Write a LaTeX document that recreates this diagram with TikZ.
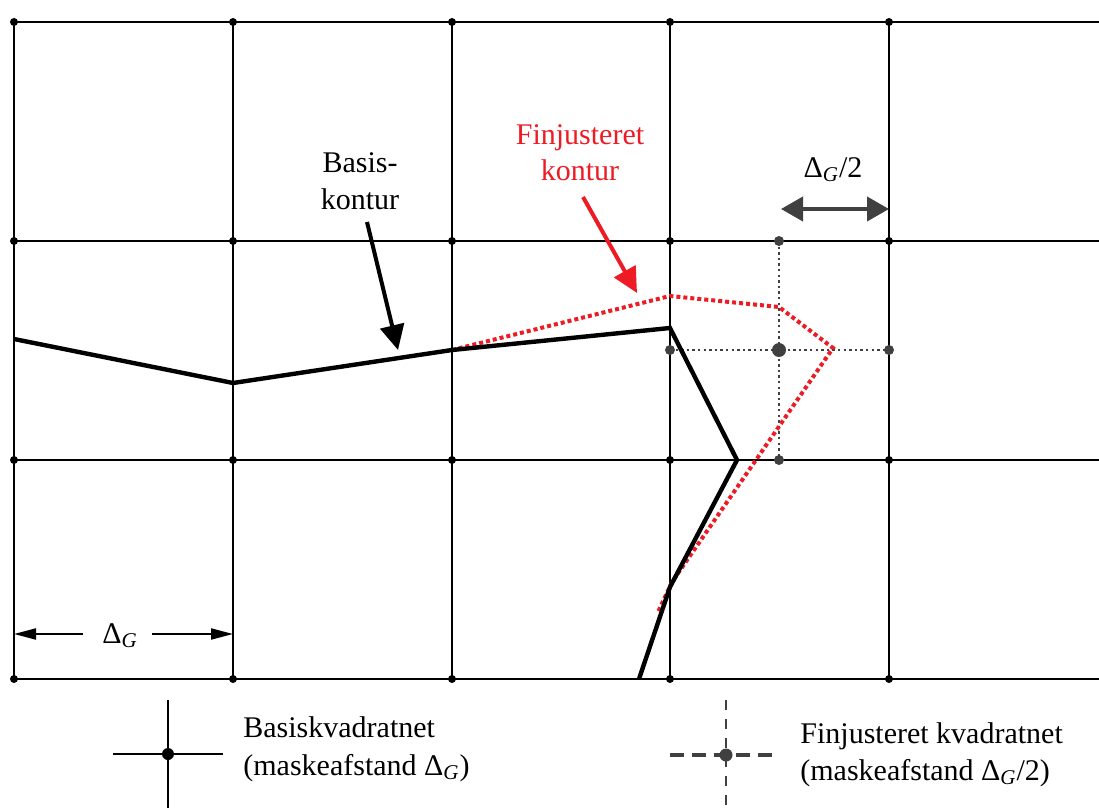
\documentclass[tikz,border=0pt]{standalone}
\usepackage{fontspec}
\setmainfont{Liberation Serif}
\usetikzlibrary{arrows.meta}
\definecolor{cred}{RGB}{237,28,36}
\definecolor{dgray}{RGB}{64,64,64}
\newcommand{\DG}{Δ\textsubscript{\textit{G}}}
\begin{document}
\begin{tikzpicture}[x=0.5pt,y=-0.5pt,
  gridline/.style={line width=1.4pt,black},
  gdot/.style={circle,fill=black,inner sep=0pt,minimum size=4pt},
  fdot/.style={circle,fill=dgray,inner sep=0pt,minimum size=5pt},
  fineline/.style={dgray,line width=1.3pt,dash pattern=on 1.2pt off 1.6pt},
  basecont/.style={line width=2.2pt,black,line join=miter},
  redcont/.style={cred,line width=2pt,dash pattern=on 2pt off 1.5pt},
  lbl/.style={font=\fontsize{15}{19}\selectfont,inner sep=0pt,anchor=base},
  bigarrow/.style={line width=2pt,-{Triangle[length=12.5pt,width=12pt]}},
  smallarrow/.style={line width=1pt,-{Triangle[length=11pt,width=5.5pt]}},
  legdash/.style={dgray,line width=1.8pt,dash pattern=on 7pt off 4pt},
]
\useasboundingbox (0,0) rectangle (1099,808);
% base grid
\foreach \x in {14,233,452,670,889} \draw[gridline] (\x,22) -- (\x,679);
\foreach \y in {22,241,460,679} \draw[gridline] (14,\y) -- (1099,\y);
\foreach \x in {14,233,452,670,889} \foreach \y in {22,241,460,679}
  \node[gdot] at (\x,\y) {};
% fine grid
\draw[fineline] (779,241) -- (779,460);
\draw[fineline] (670,350) -- (889,350);
\foreach \p in {(779,241),(670,350),(889,350),(779,460)} \node[fdot] at \p {};
\node[fdot,minimum size=7pt] at (779,350) {};
% contours
\draw[cred,line width=0.8pt] (14,339) -- (233,383) -- (452,350);
\draw[redcont] (452,350) -- (670,296) -- (779,307) -- (833,348) -- (672,582) -- (658,612);
\draw[basecont] (14,339) -- (233,383) -- (452,350) -- (670,328) -- (737,460) -- (670,587) -- (639,679);
% labels top
\node[lbl] (basisA) at (360,173) {Basis-};
\node[lbl] (basisB) at (360,210) {kontur};
\coordinate (basisS) at (367,222);
\coordinate (basisT) at (398,350);
\draw[bigarrow] (basisS) -- (basisT);
\node[lbl,text=cred] (finA) at (580,145) {Finjusteret};
\node[lbl,text=cred] (finB) at (580,181) {kontur};
\coordinate (finS) at (583,197);
\coordinate (finT) at (637,293);
\draw[bigarrow,cred] (finS) -- (finT);
% Delta_G/2 arrow
\node[lbl] (halfl) at (833,177) {\DG/2};
\coordinate (halfL) at (781,209);
\coordinate (halfR) at (889,209);
\draw[dgray,line width=2pt,{Triangle[length=11pt,width=12pt]}-{Triangle[length=11pt,width=12pt]}] (halfL) -- (halfR);
% Delta_G arrow
\node[lbl] (dgl) at (120,643) {\DG};
\coordinate (dgL) at (14,634);
\coordinate (dgR) at (233,634);
\coordinate (dgLs) at (83,634);
\coordinate (dgRs) at (152,634);
\draw[smallarrow] (dgLs) -- (dgL);
\draw[smallarrow] (dgRs) -- (dgR);
% legend 1
\draw[gridline] (113,754) -- (223,754);
\draw[gridline] (168,700) -- (168,808);
\node[gdot,minimum size=6pt] (leg1) at (168,754) {};
\node[lbl,anchor=base west] (leg1a) at (243,737) {Basiskvadratnet};
\node[lbl,anchor=base west] (leg1b) at (243,775) {(maskeafstand \DG)};
% legend 2
\draw[legdash] (670,755) -- (779,755);
\draw[dgray,line width=1pt,dash pattern=on 5pt off 4.5pt] (726,700) -- (726,808);
\node[fdot,minimum size=6.5pt] (leg2) at (726,755) {};
\node[lbl,anchor=base west] (leg2a) at (800,743) {Finjusteret kvadratnet};
\node[lbl,anchor=base west] (leg2b) at (800,780) {(maskeafstand \DG/2)};
\end{tikzpicture}
\end{document}
